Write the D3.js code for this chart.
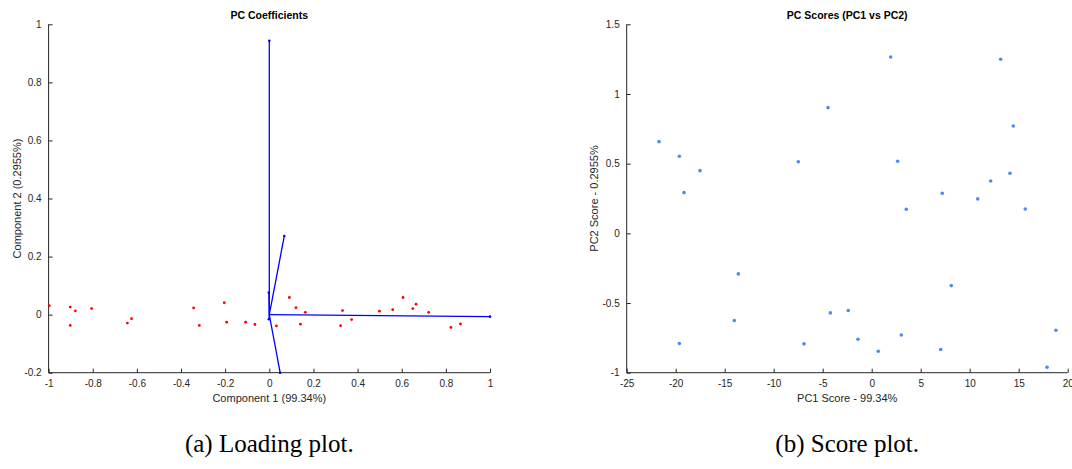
<!DOCTYPE html>
<html>
<head>
<meta charset="utf-8">
<script src="https://cdn.jsdelivr.net/npm/d3@7/dist/d3.min.js"></script>
<style>
  html, body { margin: 0; padding: 0; background: #fff; }
  svg { display: block; }
  text { font-family: "Liberation Sans", Arial, sans-serif; }
  text.caption { font-family: "Liberation Serif", "Times New Roman", serif; }
</style>
</head>
<body>
<svg id="fig" width="1072" height="469"></svg>
<script>
// Loading plot: coefficient vectors (PC1, PC2)
const coefVectors = [
  [1.0, -0.007], [0.0, 0.943], [0.068, 0.271], [0.049, -0.2],
  [-0.002, 0.076], [-0.002, -0.016]
];
// Loading plot: scaled observation scores
const loadingPointsX = [-0.997, -0.902, -0.879, -0.902, -0.805, -0.643, -0.624, -0.343, -0.317,
  -0.204, -0.193, -0.107, -0.065, 0.032, 0.091, 0.121, 0.141, 0.163, 0.323, 0.332, 0.373,
  0.499, 0.559, 0.606, 0.650, 0.665, 0.722, 0.823, 0.866];
const loadingPointsY = [0.031, 0.026, 0.013, -0.037, 0.021, -0.029, -0.014, 0.023, -0.037,
  0.041, -0.026, -0.026, -0.034, -0.039, 0.059, 0.024, -0.033, 0.008, -0.038, 0.014, -0.017,
  0.012, 0.017, 0.059, 0.021, 0.036, 0.008, -0.044, -0.032];
const loadingXTicks = [-1, -0.8, -0.6, -0.4, -0.2, 0, 0.2, 0.4, 0.6, 0.8, 1];
const loadingYTicks = [-0.2, 0, 0.2, 0.4, 0.6, 0.8, 1];

// Score plot: PC1 vs PC2
const scorePC1 = [-21.7, -19.63, -17.52, -19.15, -7.49, -4.46, 1.94, 13.16, 14.45, 2.65, 14.11,
  12.14, 7.2, 10.82, 3.53, 15.67, 8.12, -4.22, -2.39, -1.40, 3.02, 0.67, 7.04, 18.8, 17.89,
  -13.61, -14.02, -19.63, -6.91];
const scorePC2 = [0.658, 0.553, 0.450, 0.292, 0.514, 0.902, 1.265, 1.249, 0.770, 0.517, 0.431,
  0.376, 0.288, 0.247, 0.173, 0.175, -0.375, -0.571, -0.554, -0.760, -0.729, -0.846, -0.834,
  -0.695, -0.961, -0.291, -0.626, -0.791, -0.793];
const scoreXTicks = [-25, -20, -15, -10, -5, 0, 5, 10, 15, 20];
const scoreYTicks = [-1, -0.5, 0, 0.5, 1, 1.5];

const svg = d3.select("#fig");
const axisColor = "#262626";

function drawAxes(g, x, y, xTicks, yTicks) {
  const xa = g.append("g").attr("transform", `translate(0,${y.range()[0]})`)
    .call(d3.axisBottom(x).tickValues(xTicks).tickSize(-4).tickPadding(7).tickFormat(d => String(d)));
  const ya = g.append("g").attr("transform", `translate(${x.range()[0]},0)`)
    .call(d3.axisLeft(y).tickValues(yTicks).tickSize(-4).tickPadding(7).tickFormat(d => String(d)));
  [xa, ya].forEach(a => {
    a.select(".domain").attr("stroke", axisColor).attr("stroke-width", 1);
    a.selectAll(".tick line").attr("stroke", axisColor);
    a.selectAll(".tick text").attr("fill", axisColor).attr("font-size", 10)
      .style("font-family", "'Liberation Sans', Arial, sans-serif");
  });
  // axis lines without outer ticks
  xa.select(".domain").attr("d", `M${x.range()[0]},0H${x.range()[1]}`);
  ya.select(".domain").attr("d", `M0,${y.range()[0]}V${y.range()[1]}`);
}

function labels(g, x, y, title, xLabel, yLabel, yLabelX, caption) {
  const cx = (x.range()[0] + x.range()[1]) / 2;
  const cy = (y.range()[0] + y.range()[1]) / 2;
  g.append("text").attr("x", cx).attr("y", 19)
    .attr("text-anchor", "middle").attr("font-weight", "bold").attr("font-size", 10.5)
    .attr("fill", "#000").text(title);
  g.append("text").attr("x", cx).attr("y", 402)
    .attr("text-anchor", "middle").attr("font-size", 11).attr("fill", axisColor)
    .text(xLabel);
  g.append("text").attr("transform", `translate(${yLabelX},${cy}) rotate(-90)`)
    .attr("text-anchor", "middle").attr("font-size", 11).attr("fill", axisColor)
    .text(yLabel);
  g.append("text").attr("class", "caption").attr("x", cx).attr("y", 452)
    .attr("text-anchor", "middle").attr("font-size", 25)
    .attr("fill", "#000").text(caption);
}

// ---------- Loading plot ----------
{
  const x = d3.scaleLinear().domain([-1, 1]).range([48.6, 490]);
  const y = d3.scaleLinear().domain([-0.2, 1]).range([372.7, 24.3]);
  const g = svg.append("g");
  drawAxes(g, x, y, loadingXTicks, loadingYTicks);

  g.append("g").selectAll("circle").data(loadingPointsX).join("circle")
    .attr("cx", d => x(d)).attr("cy", (d, i) => y(loadingPointsY[i]))
    .attr("r", 1.4).attr("fill", "#ff0000");

  g.append("g").selectAll("line").data(coefVectors).join("line")
    .attr("x1", x(0)).attr("y1", y(0))
    .attr("x2", d => x(d[0])).attr("y2", d => y(d[1]))
    .attr("stroke", "#0000ff").attr("stroke-width", 1.3);
  g.append("g").selectAll("circle").data(coefVectors).join("circle")
    .attr("cx", d => x(d[0])).attr("cy", d => y(d[1]))
    .attr("r", 1.3).attr("fill", "#0000ff");

  labels(g, x, y, "PC Coefficients", "Component 1 (99.34%)", "Component 2 (0.2955%)", 21,
    "(a) Loading plot.");
}

// ---------- Score plot ----------
{
  const x = d3.scaleLinear().domain([-25, 20]).range([626.7, 1067.7]);
  const y = d3.scaleLinear().domain([-1, 1.5]).range([372.7, 24.3]);
  const g = svg.append("g");
  drawAxes(g, x, y, scoreXTicks, scoreYTicks);

  g.append("g").selectAll("circle").data(scorePC1).join("circle")
    .attr("cx", d => x(d)).attr("cy", (d, i) => y(scorePC2[i]))
    .attr("r", 1.8).attr("fill", "#4a8cf0");

  labels(g, x, y, "PC Scores (PC1 vs PC2)", "PC1 Score - 99.34%", "PC2 Score - 0.2955%", 598,
    "(b) Score plot.");
}
</script>
</body>
</html>
